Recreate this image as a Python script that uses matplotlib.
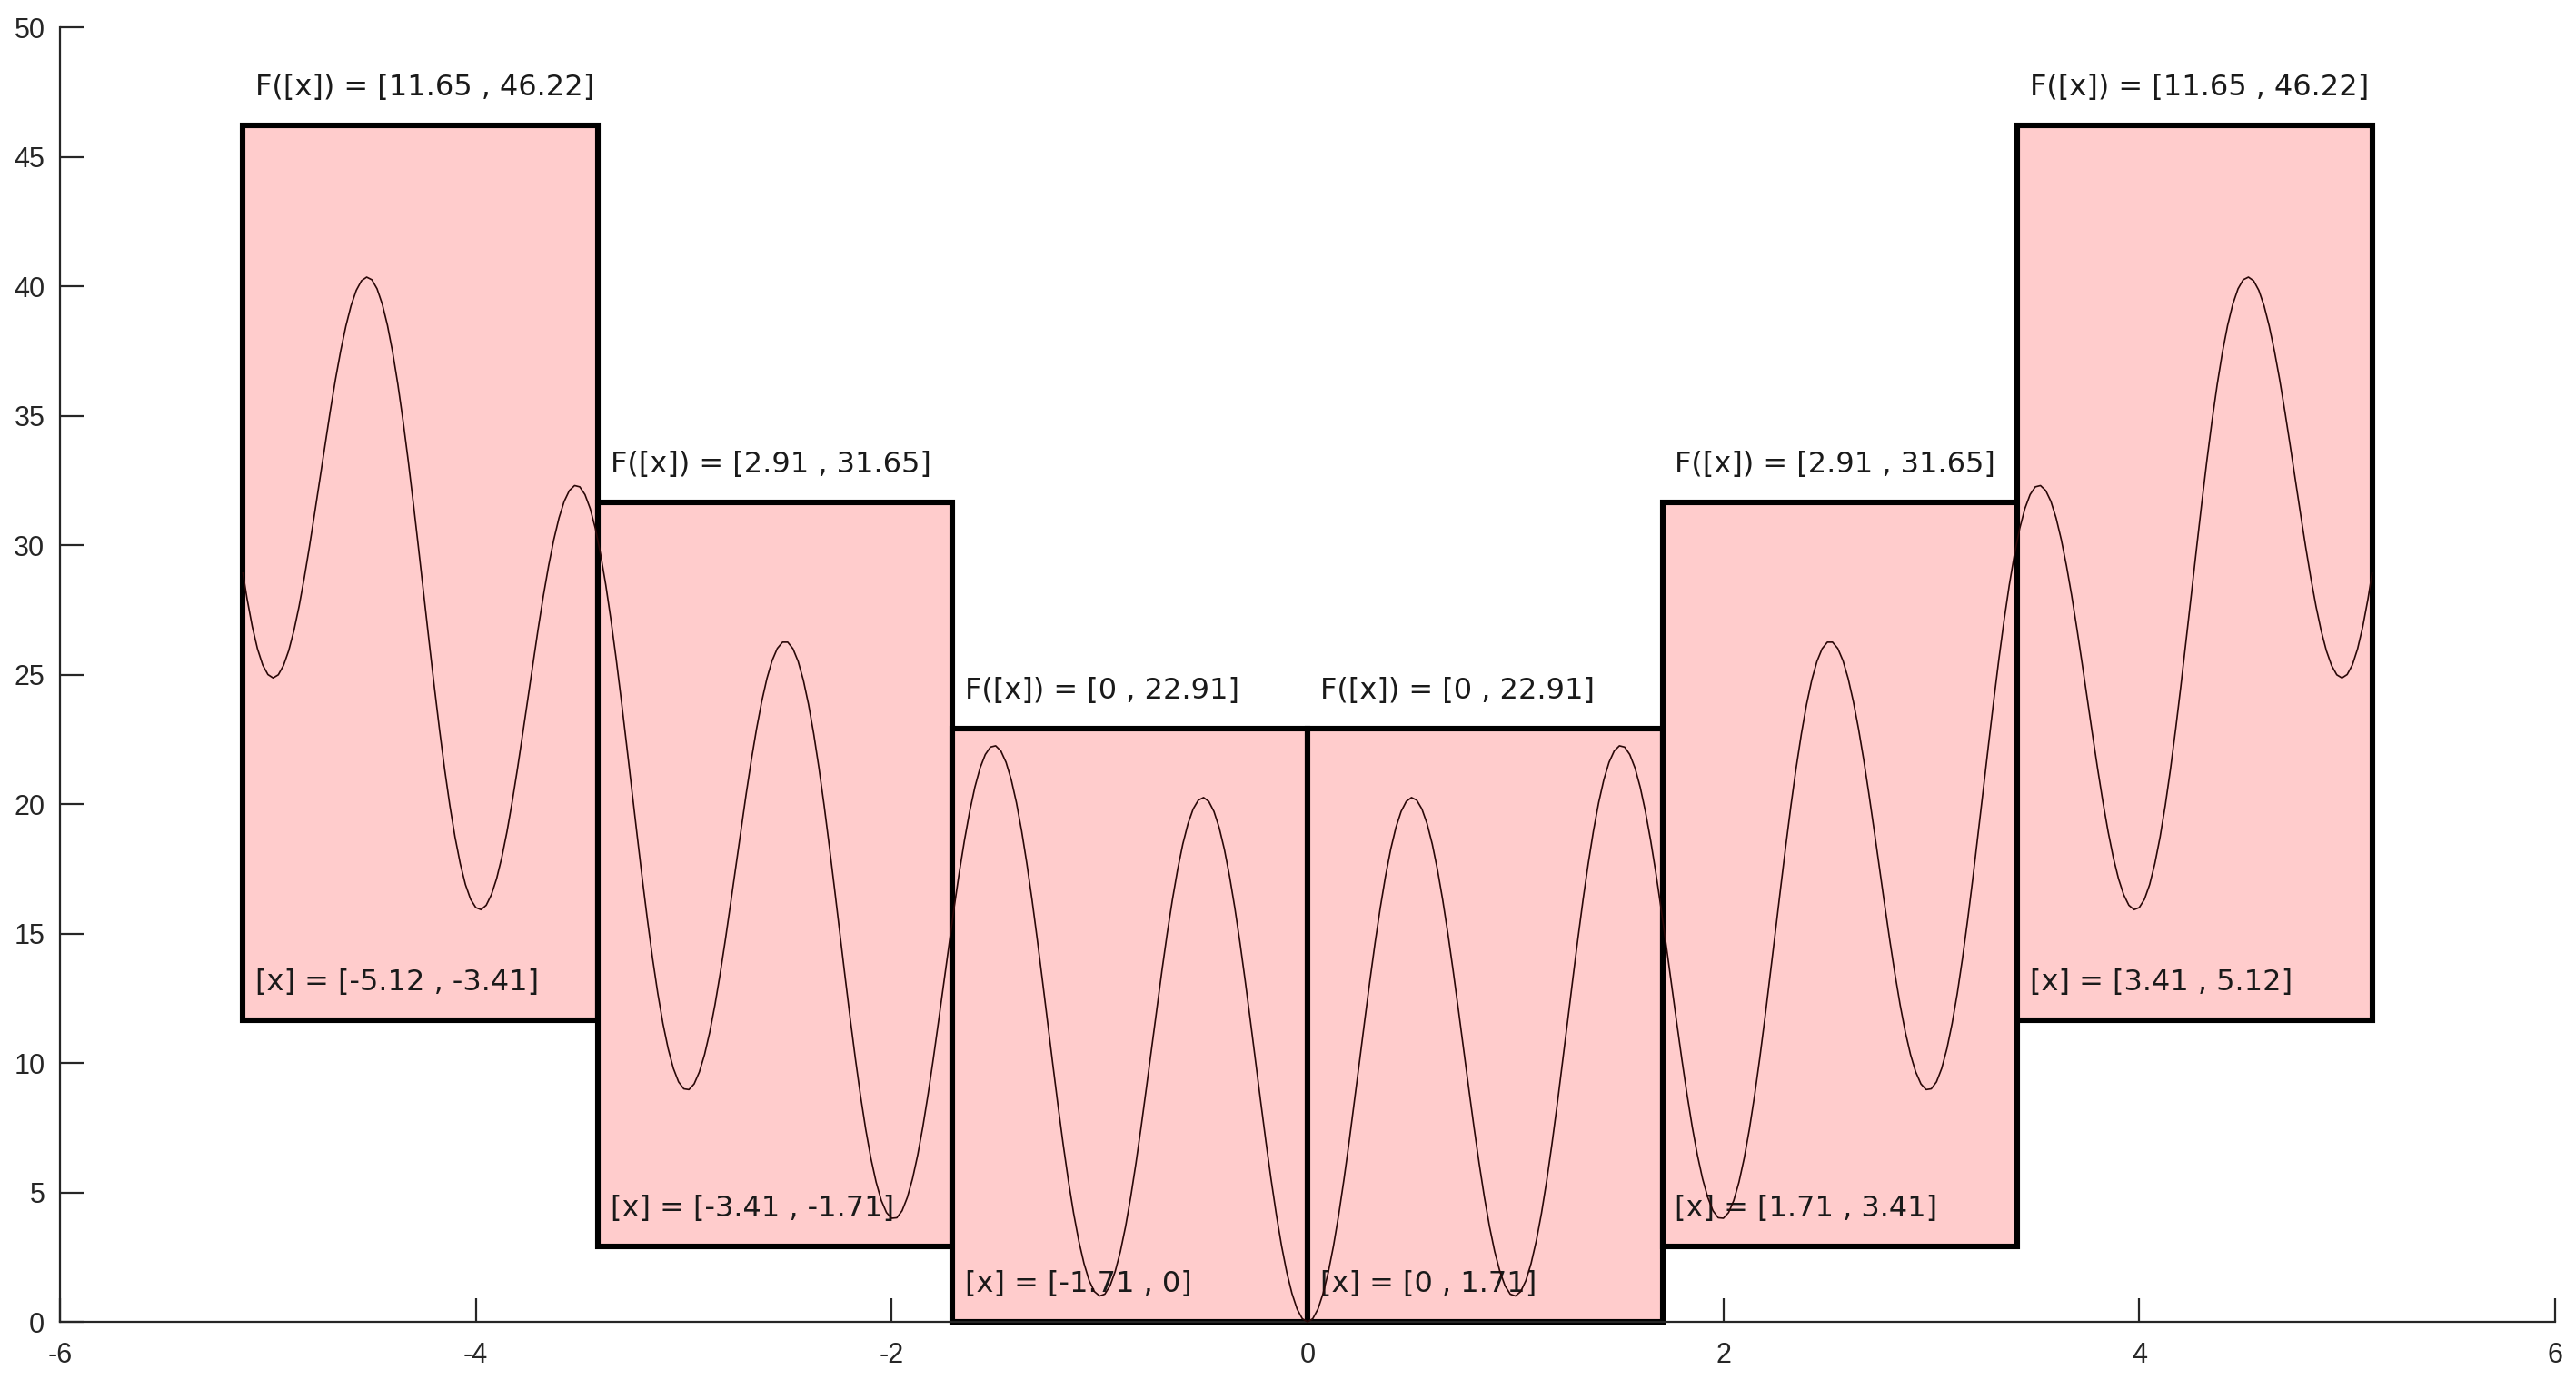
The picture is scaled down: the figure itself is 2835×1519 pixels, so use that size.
import numpy as np
import matplotlib
matplotlib.use("Agg")
import matplotlib.pyplot as plt
from matplotlib.patches import Rectangle

# ---- data ----
box_x_lo = [-5.12, -3.4133, -1.7067, 0.0, 1.7067, 3.4133]
box_x_hi = [-3.4133, -1.7067, 0.0, 1.7067, 3.4133, 5.12]
box_f_lo = [11.65, 2.91, 0.0, 0.0, 2.91, 11.65]
box_f_hi = [46.22, 31.65, 22.91, 22.91, 31.65, 46.22]
x_labels = ["[x] = [-5.12 , -3.41]", "[x] = [-3.41 , -1.71]", "[x] = [-1.71 , 0]",
            "[x] = [0 , 1.71]", "[x] = [1.71 , 3.41]", "[x] = [3.41 , 5.12]"]
f_labels = ["F([x]) = [11.65 , 46.22]", "F([x]) = [2.91 , 31.65]", "F([x]) = [0 , 22.91]",
            "F([x]) = [0 , 22.91]", "F([x]) = [2.91 , 31.65]", "F([x]) = [11.65 , 46.22]"]

# curve samples on a 0.05 grid (plus the end points)
grid_x = np.round(np.concatenate(([-5.12], np.arange(-5.10, 5.101, 0.05), [5.12])), 3)
grid_y_neg = [
    28.92, 27.92, 25.99, 25.00,
    24.99, 25.92, 27.64, 29.95, 32.56, 35.18, 37.50, 39.25, 40.21, 40.25,
    39.31, 37.45, 34.80, 31.58, 28.06, 24.55, 21.34, 18.72, 16.89, 16.00,
    16.09, 17.12, 18.94, 21.35, 24.06, 26.78, 29.20, 31.05, 32.11, 32.25,
    31.41, 29.65, 27.10, 23.98, 20.56, 17.15, 14.04, 11.52, 9.79, 9.00,
    9.19, 10.32, 12.24, 14.75, 17.56, 20.38, 22.90, 24.85, 26.01, 26.25,
    25.51, 23.85, 21.40, 18.38, 15.06, 11.75, 8.74, 6.32, 4.69, 4.00,
    4.29, 5.52, 7.54, 10.15, 13.06, 15.98, 18.60, 20.65, 21.91, 22.25,
    21.61, 20.05, 17.70, 14.78, 11.56, 8.35, 5.44, 3.12, 1.59, 1.00,
    1.39, 2.72, 4.84, 7.55, 10.56, 13.58, 16.30, 18.45, 19.81, 20.25,
    19.71, 18.25, 16.00, 13.18, 10.06, 6.95, 4.14, 1.92, 0.49,
]
grid_y_pos = [
    0.00, 0.49, 1.92, 4.14, 6.95, 10.06, 13.18, 16.00, 18.25, 19.71,
    20.25, 19.81, 18.45, 16.30, 13.58, 10.56, 7.55, 4.84, 2.72, 1.39,
    1.00, 1.59, 3.12, 5.44, 8.35, 11.56, 14.78, 17.70, 20.05, 21.61,
    22.25, 21.91, 20.65, 18.60, 15.98, 13.06, 10.15, 7.54, 5.52, 4.29,
    4.00, 4.69, 6.32, 8.74, 11.75, 15.06, 18.38, 21.40, 23.85, 25.51,
    26.25, 26.01, 24.85, 22.90, 20.38, 17.56, 14.75, 12.24, 10.32, 9.19,
    9.00, 9.79, 11.52, 14.04, 17.15, 20.56, 23.98, 27.10, 29.65, 31.41,
    32.25, 32.11, 31.05, 29.20, 26.78, 24.06, 21.35, 18.94, 17.12, 16.09,
    16.00, 16.89, 18.72, 21.34, 24.55, 28.06, 31.58, 34.80, 37.45, 39.31,
    40.25, 40.21, 39.25, 37.50, 35.18, 32.56, 29.95, 27.64, 25.92, 24.99,
    25.00, 25.99, 27.92, 28.92,
]
# curve samples half way between the grid points
mid_x = np.round(np.arange(-5.075, 5.076, 0.05), 3)
mid_y_neg = [
    26.85, 25.37, 24.87, 25.35, 26.69, 28.74, 31.24, 33.89, 36.40, 38.46,
    39.84, 40.35, 39.90, 38.49, 36.21, 33.25, 29.84, 26.29, 22.89, 19.94,
    17.70, 16.32, 15.92, 16.50, 17.94, 20.09, 22.69, 25.44, 28.05, 30.21,
    31.69, 32.30, 31.95, 30.64, 28.46, 25.60, 22.29, 18.84, 15.54, 12.69,
    10.55, 9.27, 8.97, 9.65, 11.19, 13.44, 16.14, 18.99, 21.70, 23.96,
    25.54, 26.25, 26.00, 24.79, 22.71, 19.95, 16.74, 13.39, 10.19, 7.44,
    5.40, 4.22, 4.02, 4.80, 6.44, 8.79, 11.59, 14.54, 17.35, 19.71,
    21.39, 22.20, 22.05, 20.94, 18.96, 16.30, 13.19, 9.94, 6.84, 4.19,
    2.25, 1.17, 1.07, 1.95, 3.69, 6.14, 9.04, 12.09, 15.00, 17.46,
    19.24, 20.15, 20.10, 19.09, 17.21, 14.65, 11.64, 8.49, 5.49, 2.94,
    1.10, 0.12,
]
mid_y_pos = [
    0.12, 1.10, 2.94, 5.49, 8.49, 11.64, 14.65, 17.21, 19.09, 20.10,
    20.15, 19.24, 17.46, 15.00, 12.09, 9.04, 6.14, 3.69, 1.95, 1.07,
    1.17, 2.25, 4.19, 6.84, 9.94, 13.19, 16.30, 18.96, 20.94, 22.05,
    22.20, 21.39, 19.71, 17.35, 14.54, 11.59, 8.79, 6.44, 4.80, 4.02,
    4.22, 5.40, 7.44, 10.19, 13.39, 16.74, 19.95, 22.71, 24.79, 26.00,
    26.25, 25.54, 23.96, 21.70, 18.99, 16.14, 13.44, 11.19, 9.65, 8.97,
    9.27, 10.55, 12.69, 15.54, 18.84, 22.29, 25.60, 28.46, 30.64, 31.95,
    32.30, 31.69, 30.21, 28.05, 25.44, 22.69, 20.09, 17.94, 16.50, 15.92,
    16.32, 17.70, 19.94, 22.89, 26.29, 29.84, 33.25, 36.21, 38.49, 39.90,
    40.35, 39.84, 38.46, 36.40, 33.89, 31.24, 28.74, 26.69, 25.35, 24.87,
    25.37, 26.85,
]

x_ticks = [-6, -4, -2, 0, 2, 4, 6]
y_ticks = [0, 5, 10, 15, 20, 25, 30, 35, 40, 45, 50]

# merge the two sample sets in x order
all_x = np.concatenate((grid_x, mid_x))
all_y = np.array(grid_y_neg + grid_y_pos + mid_y_neg + mid_y_pos)
order = np.argsort(all_x, kind="stable")
curve_x = all_x[order]
curve_y = all_y[order]

# ---- figure ----
fig = plt.figure(figsize=(14.175, 7.595), dpi=200)
ax = fig.add_axes([0.02328, 0.04213, 0.96861, 0.93812])
ax.set_xlim(-6, 6)
ax.set_ylim(0, 50)

label_font = dict(family="DejaVu Sans", fontsize=11.5, color="#1a1a1a")

for xl, xh, fl, fh in zip(box_x_lo, box_x_hi, box_f_lo, box_f_hi):
    ax.add_patch(Rectangle((xl, fl), xh - xl, fh - fl, facecolor="#ffcccc",
                           edgecolor="black", linewidth=2.2, zorder=2,
                           clip_on=False))

for xl, fl, fh, xt, ft in zip(box_x_lo, box_f_lo, box_f_hi, x_labels, f_labels):
    ax.text(xl + 0.06, fh + 0.9, ft, ha="left", va="bottom", zorder=3, **label_font)
    ax.text(xl + 0.06, fl + 0.9, xt, ha="left", va="bottom", zorder=3, **label_font)

ax.plot(curve_x, curve_y, color="#2a0808", linewidth=0.6, zorder=4, clip_on=False)

for s in ["top", "right"]:
    ax.spines[s].set_visible(False)
for s in ["left", "bottom"]:
    ax.spines[s].set_linewidth(0.8)
    ax.spines[s].set_color("#262626")

ax.set_xticks(x_ticks)
ax.set_yticks(y_ticks)
ax.set_xticklabels([str(v) for v in x_ticks])
ax.set_yticklabels([str(v) for v in y_ticks])
ax.tick_params(direction="in", length=9.4, width=0.8, color="#262626",
               labelsize=11, labelcolor="#262626")
ax.tick_params(axis="x", pad=8)
ax.tick_params(axis="y", pad=6)
for lab in ax.get_xticklabels() + ax.get_yticklabels():
    lab.set_family("Liberation Sans")

fig.savefig("out.png", dpi=200)
